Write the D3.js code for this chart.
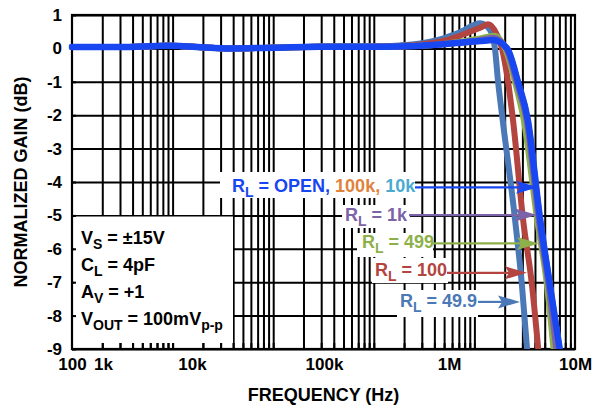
<!DOCTYPE html>
<html>
<head>
<meta charset="utf-8">
<script src="https://cdn.jsdelivr.net/npm/d3@7"></script>
<style>
  body { margin: 0; background: #fff; }
  text { font-family: Arial, "Liberation Sans", sans-serif; font-weight: bold; }
</style>
</head>
<body>
<script>
// ---- data ----
const yTicks = [1, 0, -1, -2, -3, -4, -5, -6, -7, -8, -9];
const xTickLabels = ["100", "1k", "10k", "100k", "1M", "10M"];
// frequency under each printed label, as the labels sit in the original plot
const xTickLabelFreqs = [100, 203, 1560, 32000, 559000, 1e7];

const freq49_9 = [100, 300, 880, 3500, 10000, 29000, 100000, 180000, 290000, 455000, 720000, 1140000, 1430000, 1600000, 1720000, 1920000, 2530000, 2970000, 3400000];
const gain49_9 = [0.04, 0.04, 0.08, 0.0, 0.02, 0.05, 0.06, 0.09, 0.15, 0.27, 0.48, 0.75, 0.55, 0.0, -1.0, -2.2, -5.1, -7.1, -9.3];

const freq100 = [100, 300, 880, 3500, 10000, 29000, 100000, 180000, 290000, 455000, 720000, 1140000, 1370000, 1680000, 1880000, 2160000, 2420000, 3040000, 3740000, 4400000];
const gain100 = [0.04, 0.04, 0.08, 0.0, 0.02, 0.05, 0.05, 0.07, 0.12, 0.2, 0.38, 0.62, 0.72, 0.4, 0.0, -1.0, -2.15, -5.1, -7.1, -9.3];

const freq499 = [100, 300, 880, 3500, 10000, 29000, 100000, 180000, 290000, 455000, 720000, 1140000, 1600000, 2020000, 2530000, 3100000, 4190000, 5270000, 6250000];
const gain499 = [0.04, 0.04, 0.08, 0.0, 0.02, 0.05, 0.05, 0.06, 0.09, 0.12, 0.2, 0.3, 0.38, 0.0, -1.0, -2.15, -5.1, -7.1, -9.3];

const freq1k = [100, 300, 880, 3500, 10000, 29000, 100000, 180000, 290000, 455000, 720000, 1140000, 1550000, 2070000, 2620000, 3300000, 4350000, 5450000, 6700000];
const gain1k = [0.04, 0.04, 0.08, 0.0, 0.02, 0.05, 0.05, 0.06, 0.08, 0.12, 0.18, 0.25, 0.32, 0.0, -1.0, -2.15, -5.1, -7.1, -9.3];

const freq10k = [100, 300, 880, 3500, 10000, 29000, 100000, 180000, 290000, 455000, 720000, 1140000, 1540000, 2100000, 2690000, 3380000, 4470000, 5620000, 7250000];
const gain10k = [0.04, 0.04, 0.08, 0.0, 0.02, 0.06, 0.06, 0.07, 0.09, 0.13, 0.18, 0.23, 0.27, 0.0, -1.0, -2.15, -5.1, -7.1, -9.3];

const freq100k = [100, 300, 880, 3500, 10000, 29000, 100000, 180000, 290000, 455000, 720000, 1140000, 1530000, 2110000, 2700000, 3390000, 4480000, 5630000, 7280000];
const gain100k = [0.04, 0.04, 0.08, 0.0, 0.02, 0.05, 0.05, 0.06, 0.08, 0.12, 0.17, 0.22, 0.26, 0.0, -1.0, -2.15, -5.1, -7.1, -9.3];

const freqOpen = [100, 300, 880, 3500, 10000, 29000, 100000, 180000, 290000, 455000, 720000, 1140000, 1530000, 2110000, 2710000, 3400000, 4490000, 5640000, 7300000];
const gainOpen = [0.04, 0.04, 0.08, 0.0, 0.02, 0.05, 0.05, 0.06, 0.08, 0.12, 0.17, 0.22, 0.25, 0.0, -1.0, -2.15, -5.1, -7.1, -9.3];

// arrow tips: [frequency, dB]
const arrowTipFreqs = [4.29e6, 4.19e6, 4.39e6, 3.33e6, 2.84e6];
const arrowTipGains = [-4.16, -4.99, -5.84, -6.72, -7.59];

const blue = "#1846f0", steel = "#4b78b6", red = "#b3443f", green = "#8db04b",
      purple = "#7c62a6", orange = "#e0823c", teal = "#4aabd0";

function drawGrid() {
  gridFreqs = []
  for (k = 2; k <= 6; k++) {
    for (m = 1; m <= 9; m++) {
      f = m * Math.pow(10, k)
      if (f > 100) gridFreqs.push(f)
    }
  }

  grid = canvas.append("g").attr("class", "grid")

  grid.append("g")
  .attr("transform", `translate(0,${plotBottom})`)
  .call(d3.axisBottom(x).tickValues(gridFreqs).tickSize(-(plotBottom - plotTop)).tickFormat(""))
  .call(g => g.select(".domain").remove())
  .selectAll("line").attr("stroke", "#000").attr("stroke-width", 2)

  grid.append("g")
  .attr("transform", `translate(${plotLeft},0)`)
  .call(d3.axisLeft(y).tickValues(yTicks).tickSize(-(plotRight - plotLeft)).tickPadding(10).tickFormat(d => String(d)))
  .call(g => g.select(".domain").remove())
  .call(g => g.selectAll("text").attr("font-size", 17).attr("fill", "#000"))
  .selectAll("line").attr("stroke", "#000").attr("stroke-width", 2)

  // white boxes behind the notes hide the grid there
  boxes = [
    [74, 216.5, 233, 343],
    [220, 172, 415, 198],
    [342, 205, 410, 228],
    [357, 233, 433, 257],
    [372, 258, 448, 283],
    [397, 290, 478, 317]
  ]
  canvas.append("g").selectAll("rect")
  .data(boxes)
  .enter()
  .append("rect")
  .attr("x", d => d[0]).attr("y", d => d[1])
  .attr("width", d => d[2] - d[0]).attr("height", d => d[3] - d[1])
  .attr("fill", "#fff")

  // short inward ticks stay visible inside the boxes
  canvas.append("g")
  .attr("transform", `translate(0,${plotBottom})`)
  .call(d3.axisBottom(x).tickValues(gridFreqs).tickSize(-6).tickFormat(""))
  .call(g => g.select(".domain").remove())
  .selectAll("line").attr("stroke", "#000").attr("stroke-width", 2)

  canvas.append("g")
  .attr("transform", `translate(${plotLeft},0)`)
  .call(d3.axisLeft(y).tickValues(yTicks).tickSize(-4).tickFormat(""))
  .call(g => g.select(".domain").remove())
  .selectAll("line").attr("stroke", "#000").attr("stroke-width", 2)

  canvas.append("rect")
  .attr("x", plotLeft).attr("y", plotTop)
  .attr("width", plotRight - plotLeft).attr("height", plotBottom - plotTop)
  .attr("fill", "none").attr("stroke", "#000").attr("stroke-width", 2.2)

  // x labels sit where the original put them
  canvas.append("g")
  .attr("transform", `translate(0,${plotBottom})`)
  .call(d3.axisBottom(x).tickValues(xTickLabelFreqs).tickSize(0).tickPadding(9)
        .tickFormat((d, i) => xTickLabels[i]))
  .call(g => g.select(".domain").remove())
  .selectAll("text").attr("font-size", 17).attr("fill", "#000")
}

function drawCurves() {
  canvas.append("clipPath").attr("id", "plotclip")
  .append("rect")
  .attr("x", plotLeft - 6).attr("y", plotTop)
  .attr("width", plotRight - plotLeft + 6).attr("height", plotBottom - plotTop)

  series = [
    [freq10k, gain10k, teal, 6],
    [freq100k, gain100k, orange, 6],
    [freq49_9, gain49_9, steel, 6],
    [freq100, gain100, red, 6],
    [freq499, gain499, green, 6],
    [freq1k, gain1k, purple, 6],
    [freqOpen, gainOpen, blue, 6.5]
  ]

  line = d3.line()
  .x(d => x(d[0]))
  .y(d => y(d[1]))
  .curve(d3.curveMonotoneX)

  curves = canvas.append("g").attr("clip-path", "url(#plotclip)")
  series.forEach(s => {
    curves.append("path")
    .datum(s[0].map((f, i) => [f, s[1][i]]))
    .attr("d", line)
    .attr("fill", "none")
    .attr("stroke", s[2])
    .attr("stroke-width", s[3])
    .attr("stroke-linecap", "round")
    .attr("stroke-linejoin", "round")
  })
}

function addText(g, xx, yy, parts, size, subSize) {
  t = g.append("text").attr("x", xx).attr("y", yy).attr("font-size", size)
  parts.forEach(p => {
    ts = t.append("tspan").text(p[0]).attr("fill", p[1])
    if (p[2]) ts.attr("font-size", subSize).attr("dy", 4.5)
    else if (p[3]) ts.attr("dy", -4.5)
  })
  return t
}

function drawNotes() {
  notes = canvas.append("g")

  // test conditions
  addText(notes, 81, 244, [["V", "#000"], ["S", "#000", true], [" = ±15V", "#000", false, true]], 18, 14)
  addText(notes, 81, 271, [["C", "#000"], ["L", "#000", true], [" = 4pF", "#000", false, true]], 18, 14)
  addText(notes, 81, 298, [["A", "#000"], ["V", "#000", true], [" = +1", "#000", false, true]], 18, 14)
  addText(notes, 81, 325, [["V", "#000"], ["OUT", "#000", true], [" = 100mV", "#000", false, true], ["p-p", "#000", true]], 18, 14)

  labels = [
    [232, 192, 415, [["R", blue], ["L", blue, true], [" = OPEN,", blue, false, true], [" 100k,", orange], [" 10k", teal]], blue],
    [345, 221, 409, [["R", purple], ["L", purple, true], [" = 1k", purple, false, true]], purple],
    [362, 248, 433, [["R", green], ["L", green, true], [" = 499", green, false, true]], green],
    [375, 276, 447, [["R", red], ["L", red, true], [" = 100", red, false, true]], red],
    [400, 307, 478, [["R", steel], ["L", steel, true], [" = 49.9", steel, false, true]], steel]
  ]

  labels.forEach((l, i) => {
    addText(notes, l[0], l[1], l[3], 18, 14)
    tipX = x(arrowTipFreqs[i])
    tipY = y(arrowTipGains[i])
    notes.append("line")
    .attr("x1", l[2]).attr("x2", tipX - 16)
    .attr("y1", tipY).attr("y2", tipY)
    .attr("stroke", l[4]).attr("stroke-width", 2.2)
    notes.append("path")
    .attr("d", `M${tipX},${tipY} L${tipX - 22},${tipY - 6.5} L${tipX - 18},${tipY} L${tipX - 22},${tipY + 6.5} Z`)
    .attr("fill", l[4])
  })

  canvas.append("text")
  .attr("x", (plotLeft + plotRight) / 2).attr("y", 401)
  .attr("text-anchor", "middle").attr("font-size", 18)
  .text("FREQUENCY (Hz)")

  canvas.append("text")
  .attr("transform", `translate(27,${(plotTop + plotBottom) / 2}) rotate(-90)`)
  .attr("text-anchor", "middle").attr("font-size", 18)
  .text("NORMALIZED GAIN (dB)")
}

function main() {
  width = 594
  height = 409
  plotLeft = 72; plotRight = 575; plotTop = 15; plotBottom = 349

  canvas = d3.select("body")
  .append("svg")
  .attr("width", width)
  .attr("height", height)

  x = d3.scaleLog().domain([100, 1e7]).range([plotLeft, plotRight])
  y = d3.scaleLinear().domain([-9, 1]).range([plotBottom, plotTop])

  drawGrid()
  drawCurves()
  drawNotes()
}

main()
</script>
</body>
</html>
